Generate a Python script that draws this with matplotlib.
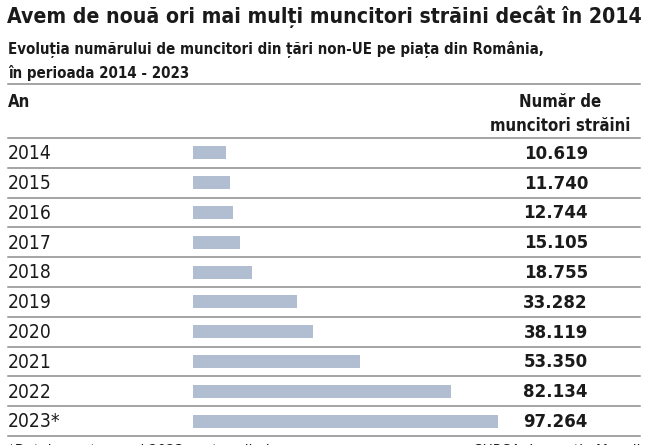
import matplotlib
matplotlib.use("Agg")
import matplotlib.pyplot as plt
from matplotlib import font_manager
from matplotlib.transforms import blended_transform_factory

# data
years = ["2014", "2015", "2016", "2017", "2018", "2019", "2020", "2021", "2022", "2023*"]
workers = [10619, 11740, 12744, 15105, 18755, 33282, 38119, 53350, 82134, 97264]
value_labels = ["10.619", "11.740", "12.744", "15.105", "18.755",
                "33.282", "38.119", "53.350", "82.134", "97.264"]

title = "Avem de nouă ori mai mulți muncitori străini decât în 2014"
subtitle_1 = "Evoluția numărului de muncitori din țări non-UE pe piața din România,"
subtitle_2 = "în perioada 2014 - 2023"
footnote = "*Datele pentru anul 2023 sunt preliminare"
source = "SURSA: Inspecția Muncii"

# narrow font if we have one
names = {f.name for f in font_manager.fontManager.ttflist}
if "Liberation Sans Narrow" in names:
    FAM = "Liberation Sans Narrow"
    STRETCH = "normal"
else:
    FAM = "DejaVu Sans"
    STRETCH = "condensed"
plt.rcParams["font.family"] = FAM
plt.rcParams["font.stretch"] = STRETCH

W, H = 658, 445
fig = plt.figure(figsize=(W / 100, H / 100), dpi=100)
fig.patch.set_facecolor("white")

def fx(px):
    return px / W

def fy(py):
    return 1 - py / H

# shrink/grow a text until it is as wide as we want
def fit(t, width_px):
    fig.canvas.draw()
    bb = t.get_window_extent()
    t.set_fontsize(t.get_fontsize() * width_px / bb.width)
    return t.get_fontsize()

line_col = "#8c8c8c"
text_col = "#1a1a1a"
bar_col = "#b1bed2"

t = fig.text(fx(7), fy(23), title, fontsize=21, fontweight="bold", color=text_col,
             va="baseline", ha="left")
fit(t, 633)
t1 = fig.text(fx(8), fy(54), subtitle_1, fontsize=14, fontweight="bold", color=text_col,
              va="baseline", ha="left")
sub_fs = fit(t1, 540)
fig.text(fx(8), fy(78), subtitle_2, fontsize=sub_fs, fontweight="bold", color=text_col,
         va="baseline", ha="left")

# header lines and labels
for py in (84, 138):
    fig.add_artist(plt.Line2D([fx(8), fx(640)], [fy(py), fy(py)], color=line_col, lw=1.1))
t2 = fig.text(fx(560), fy(131), "muncitori străini", fontsize=14, fontweight="bold",
              color=text_col, va="baseline", ha="center")
head_fs = fit(t2, 142)
fig.text(fx(8), fy(107), "An", fontsize=head_fs, fontweight="bold", color=text_col, va="baseline")
fig.text(fx(560), fy(107), "Număr de", fontsize=head_fs, fontweight="bold",
         color=text_col, va="baseline", ha="center")

# bar area: rows from y=138 to y=436 px, bars start at x=193
top, bottom = 138, 436
left, right = 193, 640
ax = fig.add_axes([fx(left), fy(bottom), fx(right - left), (bottom - top) / H])
n = len(years)
rows = list(range(n))
ax.barh(rows, workers, height=0.44, color=bar_col)
ax.set_ylim(n - 0.5, -0.5)
ax.set_xlim(0, max(workers) * (right - left) / 305)
ax.axis("off")

tr = blended_transform_factory(fig.transFigure, ax.transData)
probe = fig.text(0, 0, years[0], fontsize=15)
year_fs = fit(probe, 44)
probe.set_text(value_labels[0])
probe.set_fontweight("bold")
probe.set_fontsize(15)
val_fs = fit(probe, 64)
probe.remove()

for i in rows:
    ax.text(fx(8), i + 0.03, years[i], transform=tr, fontsize=year_fs, color=text_col,
            va="center", ha="left")
    ax.text(fx(588), i + 0.03, value_labels[i], transform=tr, fontsize=val_fs,
            fontweight="bold", color=text_col, va="center", ha="right")
    ax.plot([fx(8), fx(640)], [i + 0.5, i + 0.5], transform=tr, color=line_col,
            lw=1.1, clip_on=False)

# footnote, cut off at the bottom like the original
fig.text(fx(8), fy(456), footnote, fontsize=11, color=text_col, va="baseline")
fig.text(fx(640), fy(456), source, fontsize=11, color=text_col, va="baseline", ha="right")

fig.savefig("out.png", dpi=100, facecolor="white")
